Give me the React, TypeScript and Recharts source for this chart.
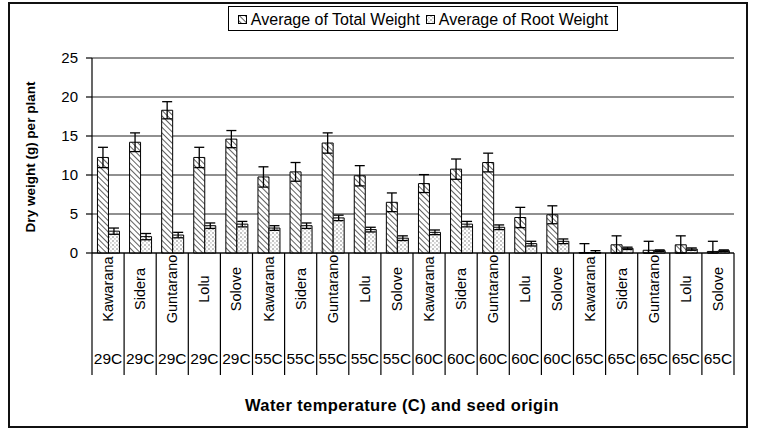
import React from "react";
import { BarChart, Bar, XAxis, YAxis, CartesianGrid, ErrorBar } from "recharts";

// Seed origins and water temperatures for each category
const origins = [
  "Kawarana", "Sidera", "Guntarano", "Lolu", "Solove",
  "Kawarana", "Sidera", "Guntarano", "Lolu", "Solove",
  "Kawarana", "Sidera", "Guntarano", "Lolu", "Solove",
  "Kawarana", "Sidera", "Guntarano", "Lolu", "Solove",
];
const temperatures = [
  "29C", "29C", "29C", "29C", "29C",
  "55C", "55C", "55C", "55C", "55C",
  "60C", "60C", "60C", "60C", "60C",
  "65C", "65C", "65C", "65C", "65C",
];

// Dry weight (g) per plant
const totalWeight = [
  12.25, 14.2, 18.3, 12.25, 14.6,
  9.75, 10.4, 14.1, 9.9, 6.5,
  8.9, 10.75, 11.6, 4.55, 4.9,
  0.05, 1.05, 0.35, 1.05, 0.2,
];
const totalError = [
  1.3, 1.2, 1.1, 1.3, 1.1,
  1.3, 1.2, 1.3, 1.3, 1.2,
  1.15, 1.3, 1.2, 1.3, 1.15,
  1.15, 1.15, 1.15, 1.15, 1.3,
];
const rootWeight = [
  2.8, 2.1, 2.3, 3.5, 3.7,
  3.2, 3.5, 4.5, 3.0, 1.9,
  2.65, 3.7, 3.3, 1.2, 1.5,
  0.05, 0.6, 0.3, 0.5, 0.3,
];
const rootError = [
  0.4, 0.4, 0.35, 0.35, 0.35,
  0.3, 0.35, 0.35, 0.3, 0.3,
  0.3, 0.35, 0.3, 0.3, 0.3,
  0.25, 0.15, 0.1, 0.15, 0.1,
];

const yTicks = [0, 5, 10, 15, 20, 25];

// Error ranges are clipped at zero, as the plot area ends there
const data = origins.map((origin, i) => ({
  key: `${origin}-${temperatures[i]}`,
  origin,
  temperature: temperatures[i],
  total: totalWeight[i],
  totalErr: [Math.min(totalError[i], totalWeight[i]), totalError[i]],
  root: rootWeight[i],
  rootErr: [Math.min(rootError[i], rootWeight[i]), rootError[i]],
}));

const FONT = "'Liberation Sans', Arial, Helvetica, sans-serif";

function PatternDefs({ prefix }: { prefix: string }) {
  return (
    <defs>
      <pattern id={`${prefix}-hatch`} width="4" height="4" patternUnits="userSpaceOnUse" patternTransform="rotate(-45)">
        <rect width="4" height="4" fill="#ffffff" />
        <line x1="0" y1="0" x2="0" y2="4" stroke="#444" strokeWidth="1.7" />
      </pattern>
      <pattern id={`${prefix}-dots`} width="4" height="4" patternUnits="userSpaceOnUse">
        <rect width="4" height="4" fill="#ffffff" />
        <rect x="0.5" y="0.5" width="1" height="1" fill="#111" />
        <rect x="2.5" y="2.5" width="0.9" height="0.9" fill="#555" />
      </pattern>
    </defs>
  );
}

// Two-tier category labels: rotated seed origin, then temperature, with divider lines
function CategoryTick(props: any) {
  const { x, y, payload, index, visibleTicksCount } = props;
  const half = payload && payload.offset ? payload.offset : 16.05;
  const item = data[index] || data[0];
  const bottom = y + 122;
  const left = x - half;
  const right = x + half;
  return (
    <g>
      <line x1={left} y1={y} x2={left} y2={bottom} stroke="#000" strokeWidth={1.2} />
      {index === visibleTicksCount - 1 && (
        <line x1={right} y1={y} x2={right} y2={bottom} stroke="#000" strokeWidth={1.2} />
      )}
      <text
        x={x}
        y={y + 36}
        transform={`rotate(-90, ${x}, ${y + 36})`}
        textAnchor="middle"
        dominantBaseline="central"
        fontFamily={FONT}
        fontSize={14.5}
        fill="#000"
      >
        {item.origin}
      </text>
      <text
        x={x}
        y={y + 105}
        textAnchor="middle"
        dominantBaseline="central"
        fontFamily={FONT}
        fontSize={15.5}
        fill="#000"
      >
        {item.temperature}
      </text>
    </g>
  );
}

function LegendIcon({ fill }: { fill: string }) {
  return (
    <svg width={9} height={9} style={{ display: "inline-block", verticalAlign: "middle", marginRight: 4 }}>
      <PatternDefs prefix="lg" />
      <rect x={0.5} y={0.5} width={8} height={8} fill={fill} stroke="#000" strokeWidth={1} />
    </svg>
  );
}

export default function App() {
  return (
    <div style={{ position: "absolute", left: 0, top: 0, width: 765, height: 436, background: "#fff" }}>
      <div
        style={{
          position: "absolute",
          left: 8,
          top: 2,
          width: 736,
          height: 422,
          border: "2px solid #111",
        }}
      />
      <div
        style={{
          position: "absolute",
          left: 228,
          top: 6,
          width: 388,
          height: 23,
          border: "1px solid #000",
          background: "#fff",
          fontFamily: FONT,
          fontSize: 16,
          lineHeight: "23px",
          textAlign: "center",
          whiteSpace: "nowrap",
          zIndex: 2,
        }}
      >
        <LegendIcon fill="url(#lg-hatch)" />
        <span style={{ verticalAlign: "middle" }}>Average of Total Weight</span>
        <span style={{ display: "inline-block", width: 6 }} />
        <LegendIcon fill="url(#lg-dots)" />
        <span style={{ verticalAlign: "middle" }}>Average of Root Weight</span>
      </div>
      <div style={{ position: "absolute", left: 0, top: 0 }}>
        <BarChart
          width={765}
          height={436}
          data={data}
          margin={{ top: 58, right: 31, bottom: 61, left: 0 }}
          barCategoryGap="17%"
          barGap={0}
        >
          <PatternDefs prefix="bar" />
          <CartesianGrid vertical={false} stroke="#222" strokeWidth={1.2} />
          <XAxis
            dataKey="key"
            interval={0}
            height={122}
            tickSize={0}
            tickMargin={0}
            tickLine={false}
            axisLine={{ stroke: "#000", strokeWidth: 1.2 }}
            tick={<CategoryTick />}
            label={{
              content: () => (
                <text
                  x={402}
                  y={405}
                  textAnchor="middle"
                  dominantBaseline="central"
                  fontFamily={FONT}
                  fontSize={16.5}
                  fontWeight="bold"
                  letterSpacing={0.4}
                  fill="#000"
                >
                  Water temperature (C) and seed origin
                </text>
              ),
            }}
          />
          <YAxis
            width={92}
            domain={[0, 25]}
            ticks={yTicks}
            interval={0}
            tickSize={6}
            tickMargin={8}
            tickLine={{ stroke: "#000", strokeWidth: 1.2 }}
            axisLine={{ stroke: "#000", strokeWidth: 1.2 }}
            tick={{ fill: "#000", fontFamily: FONT, fontSize: 15 }}
            label={{
              content: () => {
                const cx = 30;
                const cy = 157;
                return (
                  <text
                    x={cx}
                    y={cy}
                    transform={`rotate(-90, ${cx}, ${cy})`}
                    textAnchor="middle"
                    dominantBaseline="central"
                    fontFamily={FONT}
                    fontSize={13.5}
                    fontWeight="bold"
                    fill="#000"
                  >
                    Dry weight (g) per plant
                  </text>
                );
              },
            }}
          />
          <Bar dataKey="total" name="Average of Total Weight" fill="url(#bar-hatch)" stroke="#000" strokeWidth={1} isAnimationActive={false}>
            <ErrorBar dataKey="totalErr" width={5} stroke="#000" strokeWidth={1.3} direction="y" />
          </Bar>
          <Bar dataKey="root" name="Average of Root Weight" fill="url(#bar-dots)" stroke="#000" strokeWidth={1} isAnimationActive={false}>
            <ErrorBar dataKey="rootErr" width={5} stroke="#000" strokeWidth={1.3} direction="y" />
          </Bar>
        </BarChart>
      </div>
    </div>
  );
}
